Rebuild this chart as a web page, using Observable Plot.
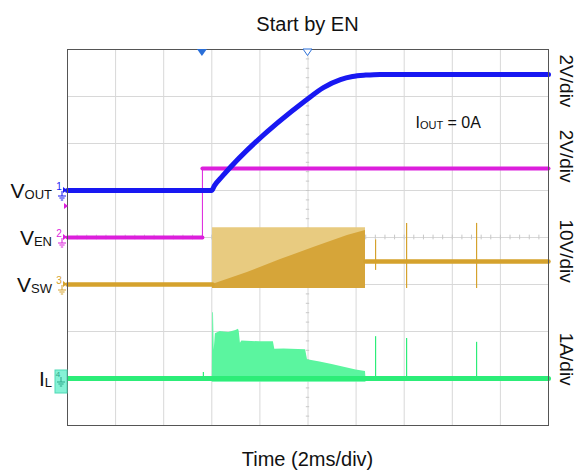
<!DOCTYPE html>
<html><head><meta charset="utf-8">
<script src="https://cdn.jsdelivr.net/npm/d3@7"></script>
<script src="https://cdn.jsdelivr.net/npm/@observablehq/plot@0.6"></script>
<style>
body{margin:0;background:#fff;}
svg{display:block;font-family:"Liberation Sans",Arial,Helvetica,sans-serif;}
</style>
</head><body><div id="chart"></div>
<script>
// ---------- data ----------
const title = "Start by EN";
const xLabel = "Time (2ms/div)";
const noteMain = "I", noteSub = "OUT", noteRest = " = 0A";
const chanMain = ["V", "V", "V", "I"];
const chanSub = ["OUT", "EN", "SW", "L"];
const chanNum = ["1", "2", "3", "4"];
const chanOffset = [5, 4, 3, 1];          // ground position (divisions)
const chanPerDiv = [2, 2, 10, 1];         // V/div, A/div
const scaleLabels = ["2V/div", "2V/div", "10V/div", "1A/div"];

// time in ms (2 ms/div, 10 div)
const voutT = [0, 5.99, 6.11, 6.45, 9.90, 10.64, 11.35, 11.85, 12.4, 13.0, 20];
const voutV = [0, 0, 0.21, 0.62, 3.83, 4.38, 4.72, 4.85, 4.91, 4.94, 4.94];

const enT = 5.61;
const venLowT = [0, 5.61], venLowV = [0, 0];
const venHighT = [5.61, 20], venHighV = [2.94, 2.94];

const swPreT = [0, 6.03], swPreV = [0, 0];
const swPostT = [12.39, 20], swPostV = [4.9, 4.9];
const swBandT = [6.03, 12.39], swBandTop = [12.1, 12.1], swBandBot = [-0.85, -0.85];
const swDenseT = [6.03, 7.48, 8.86, 10.23, 11.64, 12.39];
const swDenseV = [0, 2.55, 5.3, 7.87, 10.4, 11.5];
const swSpikeT = [12.81, 14.10, 17.01], swSpikeTop = [9.5, 13.0, 13.0], swSpikeBot = [3.0, -0.85, -0.85];

const ilT = [6.02, 6.04, 6.07, 6.10, 6.15, 6.35, 6.7, 7.0, 7.11, 7.14, 7.19, 7.25, 8.0, 8.56, 8.62, 9.0, 9.9, 9.98, 10.5, 11.0, 11.5, 12.0, 12.39, 12.41];
const ilA = [0, 1.40, 1.40, 0.60, 0.95, 1.00, 0.98, 1.02, 1.05, 1.0, 0.75, 0.80, 0.78, 0.78, 0.62, 0.63, 0.61, 0.40, 0.35, 0.30, 0.24, 0.18, 0.15, 0];
const ilLow = -0.08;
const ilSpikeT = [5.65, 12.81, 14.10, 17.01], ilSpikeA = [0.13, 0.89, 0.85, 0.77];
const ilBaseT = [0, 20], ilBaseA = [0, 0];

// ---------- colors ----------
const cBlue = "#1818f2", cMag = "#dc1fdc", cGold = "#d5a22d", cGoldLight = "#e8cb80", cGoldDark = "#d6a539";
const cGreen = "#2ced78", cGreenFill = "#5bf59f";

// helpers: channel value -> divisions
const dv = (ch, v) => chanOffset[ch] + v / chanPerDiv[ch];
const rows = (T, V, ch) => T.map((t, i) => ({t, y: dv(ch, V[i])}));

const gridX = d3.range(0, 21, 2);
const gridY = d3.range(0, 9, 1);
const minorY = d3.range(0, 8.01, 0.2);
const minorX = d3.range(0, 20.01, 0.4);

const W = 579, H = 473;
const plot = Plot.plot({
  width: W, height: H,
  marginLeft: 67, marginRight: 31, marginTop: 49, marginBottom: 48,
  x: {domain: [0, 20], axis: null},
  y: {domain: [0, 8], axis: null},
  marks: [
    Plot.ruleX(gridX, {stroke: "#d8d8d8", strokeWidth: 1}),
    Plot.ruleY(gridY, {stroke: "#d8d8d8", strokeWidth: 1}),
    Plot.ruleY(minorY, {y: d => d, x1: 9.93, x2: 10.07, stroke: "#c8c8c8"}),
    Plot.ruleX(minorX, {x: d => d, y1: 3.95, y2: 4.05, stroke: "#c8c8c8"}),
    // VSW
    Plot.areaY(swBandT.map((t, i) => ({t, a: dv(2, swBandBot[i]), b: dv(2, swBandTop[i])})), {x: "t", y1: "a", y2: "b", fill: cGoldLight}),
    Plot.areaY(swDenseT.map((t, i) => ({t, a: dv(2, swBandBot[0]), b: dv(2, swDenseV[i])})), {x: "t", y1: "a", y2: "b", fill: cGoldDark}),
    Plot.line(rows(swPreT, swPreV, 2), {x: "t", y: "y", stroke: cGold, strokeWidth: 4.5}),
    Plot.line(rows(swPostT, swPostV, 2), {x: "t", y: "y", stroke: cGold, strokeWidth: 4.5}),
    Plot.ruleX(swSpikeT.map((t, i) => ({t, a: dv(2, swSpikeBot[i]), b: dv(2, swSpikeTop[i])})), {x: "t", y1: "a", y2: "b", stroke: cGold, strokeWidth: 1.2}),
    // IL
    Plot.areaY(ilT.map((t, i) => ({t, a: dv(3, ilLow), b: dv(3, ilA[i])})), {x: "t", y1: "a", y2: "b", fill: cGreenFill}),
    Plot.ruleX(ilSpikeT.map((t, i) => ({t, a: dv(3, 0), b: dv(3, ilSpikeA[i])})), {x: "t", y1: "a", y2: "b", stroke: cGreen, strokeWidth: 1.2}),
    Plot.line(rows(ilBaseT, ilBaseA, 3), {x: "t", y: "y", stroke: cGreen, strokeWidth: 5}),
    // VEN
    Plot.ruleX([enT], {x: d => d, y1: dv(1, venLowV[1]), y2: dv(1, venHighV[0]), stroke: cMag, strokeWidth: 1}),
    Plot.line(rows(venLowT, venLowV, 1), {x: "t", y: "y", stroke: cMag, strokeWidth: 4}),
    Plot.line(rows(venHighT, venHighV, 1), {x: "t", y: "y", stroke: cMag, strokeWidth: 4}),
    // VOUT
    Plot.line(rows(voutT, voutV, 0), {x: "t", y: "y", stroke: cBlue, strokeWidth: 5, curve: "monotone-x"}),
    Plot.frame({stroke: "#555", strokeWidth: 1})
  ]
});
document.getElementById("chart").appendChild(plot);

// ---------- decorations (positioned through the plot's scales) ----------
const xs = plot.scale("x"), ys = plot.scale("y");
const X = v => xs.apply(v), Y = v => ys.apply(v);
const svg = d3.select(plot);
const font = '"Liberation Sans",Arial,Helvetica,sans-serif';
const x0 = X(0), x1 = X(20), yTop = Y(8), yBot = Y(0);

svg.append("text").attr("x", (x0 + x1) / 2).attr("y", 31).attr("text-anchor", "middle")
  .attr("font-size", 20).attr("fill", "#111").attr("font-family", font).text(title);
svg.append("text").attr("x", (x0 + x1) / 2).attr("y", 466).attr("text-anchor", "middle")
  .attr("font-size", 20).attr("fill", "#111").attr("font-family", font).text(xLabel);

// right side scale labels
const labelDiv = [7.32, 5.72, 3.70, 1.40];
scaleLabels.forEach((s, i) => {
  svg.append("text").attr("transform", `translate(${x1 + 12},${Y(labelDiv[i])}) rotate(90)`)
    .attr("text-anchor", "middle").attr("font-size", 19).attr("fill", "#111").attr("font-family", font).text(s);
});

// left channel names
const chanColors = [cBlue, cMag, cGold, cGreen];
chanMain.forEach((m, i) => {
  const yc = Y(chanOffset[i]);
  const t = svg.append("text").attr("x", 52).attr("y", yc + 7.5).attr("text-anchor", "end")
    .attr("fill", "#111").attr("font-family", font);
  t.append("tspan").attr("font-size", 21).text(m);
  t.append("tspan").attr("font-size", 13).attr("dy", 1.5).text(chanSub[i]);
});

// channel ground markers
function ground(g, x, y, col) {
  g.append("line").attr("x1", x).attr("x2", x).attr("y1", y).attr("y2", y + 5).attr("stroke", col);
  [[4, 5], [2.6, 7], [1.2, 9]].forEach(([w, dy]) =>
    g.append("line").attr("x1", x - w).attr("x2", x + w).attr("y1", y + dy).attr("y2", y + dy).attr("stroke", col));
}
chanNum.forEach((n, i) => {
  const yc = Y(chanOffset[i]);
  const col = chanColors[i];
  const g = svg.append("g");
  if (i === 3) {
    g.append("rect").attr("x", 55).attr("y", yc - 8).attr("width", 12).attr("height", 23)
      .attr("fill", "#86f2d6").attr("stroke", "#4ed9b5");
    ground(g, 61, yc - 1, "#2aa88a");
    g.append("text").attr("x", 58).attr("y", yc - 1).attr("font-size", 8).attr("fill", "#2aa88a").attr("font-family", font).text(n);
  } else {
    g.append("text").attr("x", 59).attr("y", yc).attr("text-anchor", "middle").attr("font-size", 10)
      .attr("fill", col).attr("font-family", font).text(n);
    ground(g, 62, yc + 1, col);
    g.append("path").attr("d", `M${x0 - 4},${yc - 3}L${x0},${yc}L${x0 - 4},${yc + 3}Z`).attr("fill", col);
  }
});
// ch2 offset indicator under VOUT
svg.append("path").attr("d", `M${x0 - 3},${Y(chanOffset[0]) + 13}L${x0 + 1},${Y(chanOffset[0]) + 16}L${x0 - 3},${Y(chanOffset[0]) + 19}Z`).attr("fill", cMag);

// top trigger markers
svg.append("path").attr("d", `M${X(enT) - 5},${yTop}L${X(enT) + 5},${yTop}L${X(enT)},${yTop + 7}Z`).attr("fill", "#2a6fd8");
svg.append("path").attr("d", `M${X(10) - 4.5},${yTop}L${X(10) + 4.5},${yTop}L${X(10)},${yTop + 6.5}Z`).attr("fill", "#fff").attr("stroke", "#2a6fd8");

// IOUT note
const nt = svg.append("text").attr("x", X(15.85)).attr("y", 128).attr("fill", "#111").attr("font-family", font);
nt.append("tspan").attr("font-size", 16).text(noteMain);
nt.append("tspan").attr("font-size", 11).attr("dy", 1).text(noteSub);
nt.append("tspan").attr("font-size", 16).attr("dy", -1).text(noteRest);
</script>
</body></html>
